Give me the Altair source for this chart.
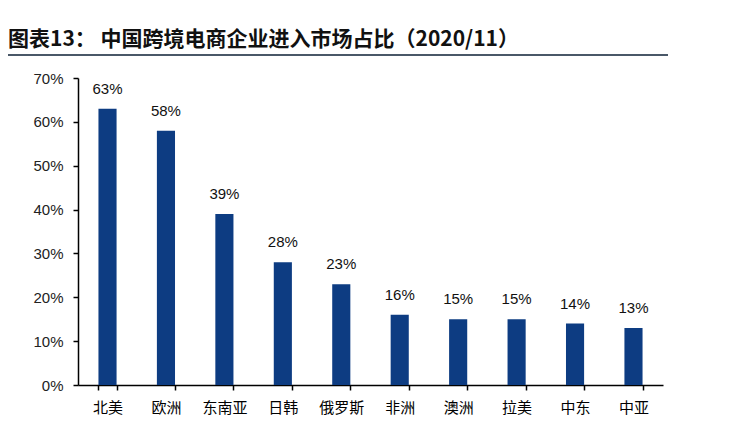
import altair as alt
import pandas as pd

regions = ["北美", "欧洲", "东南亚", "日韩", "俄罗斯", "非洲", "澳洲", "拉美", "中东", "中亚"]
shares = [0.63, 0.58, 0.39, 0.28, 0.23, 0.16, 0.15, 0.15, 0.14, 0.13]
title_text = "图表13： 中国跨境电商企业进入市场占比（2020/11）"

df = pd.DataFrame({"region": regions, "share": shares})
df["label"] = [f"{round(v*100)}%" for v in shares]

FONT = "Noto Sans CJK SC"
W, H = 585, 307

x = alt.X("region:N", sort=regions, title=None,
          scale=alt.Scale(paddingInner=0.69, paddingOuter=0.35),
          axis=alt.Axis(labelAngle=0, labelFont=FONT, labelFontSize=15, labelColor="#000",
                        labelPadding=10, tickBand="extent", tickSize=5, tickColor="#000",
                        domainColor="#000", domainWidth=1.5, tickWidth=1.5, grid=False))
y = alt.Y("share:Q", title=None,
          scale=alt.Scale(domain=[0, 0.7]),
          axis=alt.Axis(format=".0%", values=[0, .1, .2, .3, .4, .5, .6, .7], labelFont="Liberation Sans",
                        labelFontSize=15, labelColor="#222", tickSize=5, tickColor="#000", tickWidth=1.5,
                        domainColor="#000", domainWidth=1.5, grid=False, labelPadding=10))

base = alt.Chart(df)
bars = base.mark_bar(color="#0d3c82").encode(x=x, y=y)
labels = base.mark_text(dy=-15, baseline="alphabetic", font="Liberation Sans", fontSize=15,
                        color="#111").encode(x=x, y=y, text="label:N")

title = alt.Chart(pd.DataFrame({"t": [title_text]})).mark_text(
    align="left", baseline="middle", font=FONT, fontSize=21, fontWeight="bold", color="#111"
).encode(x=alt.value(-70), y=alt.value(-38), text="t:N")

underline = alt.Chart(pd.DataFrame({"a": [0]})).mark_rule(color="#4a5868", strokeWidth=2).encode(
    x=alt.value(-70), x2=alt.value(590), y=alt.value(-23))

# cover the faint frame on the top and right edges of the plot area
cover_top = alt.Chart(pd.DataFrame({"a": [0]})).mark_rule(color="white", strokeWidth=3).encode(
    x=alt.value(2), x2=alt.value(W + 3), y=alt.value(0))
cover_right = alt.Chart(pd.DataFrame({"a": [0]})).mark_rule(color="white", strokeWidth=3).encode(
    x=alt.value(W + 1), y=alt.value(-2), y2=alt.value(H - 6))

chart = alt.layer(bars, labels, title, underline, cover_top, cover_right).properties(
    width=W, height=H,
    background="white",
    autosize=alt.AutoSizeParams(type="none"),
    padding={"left": 70, "top": 70, "right": 60, "bottom": 40},
).configure_view(stroke="white", strokeWidth=0, strokeOpacity=0)

chart.save("out.html", embed_options={"renderer": "svg", "actions": False})
